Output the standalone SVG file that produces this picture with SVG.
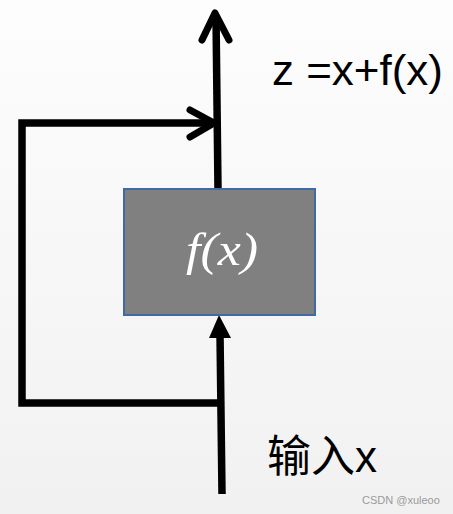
<svg xmlns="http://www.w3.org/2000/svg" width="453" height="514" viewBox="0 0 453 514">
  <defs>
    <linearGradient id="bg" x1="0" y1="0" x2="0" y2="1">
      <stop offset="0" stop-color="#fdfdfd"/>
      <stop offset="1" stop-color="#f1f1f1"/>
    </linearGradient>
  </defs>
  <style>
    .wire { fill: none; stroke: #000; stroke-width: 7.5; stroke-linejoin: miter; }
    .chev { fill: none; stroke: #000; stroke-width: 7; stroke-linecap: round; stroke-linejoin: round; }
    .lbl { font-family: "Liberation Sans", Arial, "Noto Sans CJK SC", sans-serif; fill: #000; }
  </style>
  <rect x="0" y="0" width="453" height="514" fill="url(#bg)"/>
  <g id="connectors">
    <path class="wire" d="M222,403 L22,403 L22,123 L214,123"/>
    <path class="chev" d="M190,110 L214,123 L190,137"/>
    <path class="wire" d="M218,189 L216,16"/>
    <path class="chev" d="M202,40 L215,13 L229,40"/>
    <path class="wire" d="M222,494 L220,334"/>
    <polygon points="209,338 219,315 231,338" fill="#000"/>
  </g>
  <g id="fx">
    <rect x="124" y="189" width="191" height="126" fill="#808080" stroke="#4169a8" stroke-width="2"/>
    <text x="222" y="265" text-anchor="middle" font-family="Liberation Serif, 'Times New Roman', serif" font-style="italic" font-size="46" fill="#fff" textLength="72" lengthAdjust="spacingAndGlyphs">f(x)</text>
  </g>
  <g id="output-label">
    <text class="lbl" x="272" y="85" font-size="43" textLength="171" lengthAdjust="spacingAndGlyphs">z =x+f(x)</text>
  </g>
  <g id="input-label">
    <text class="lbl" x="267" y="472" font-size="44">输入x</text>
  </g>
  <text x="362" y="504" font-family="Liberation Sans, Arial, sans-serif" font-size="11" fill="#9a9a9a">CSDN @xuleoo</text>
</svg>
